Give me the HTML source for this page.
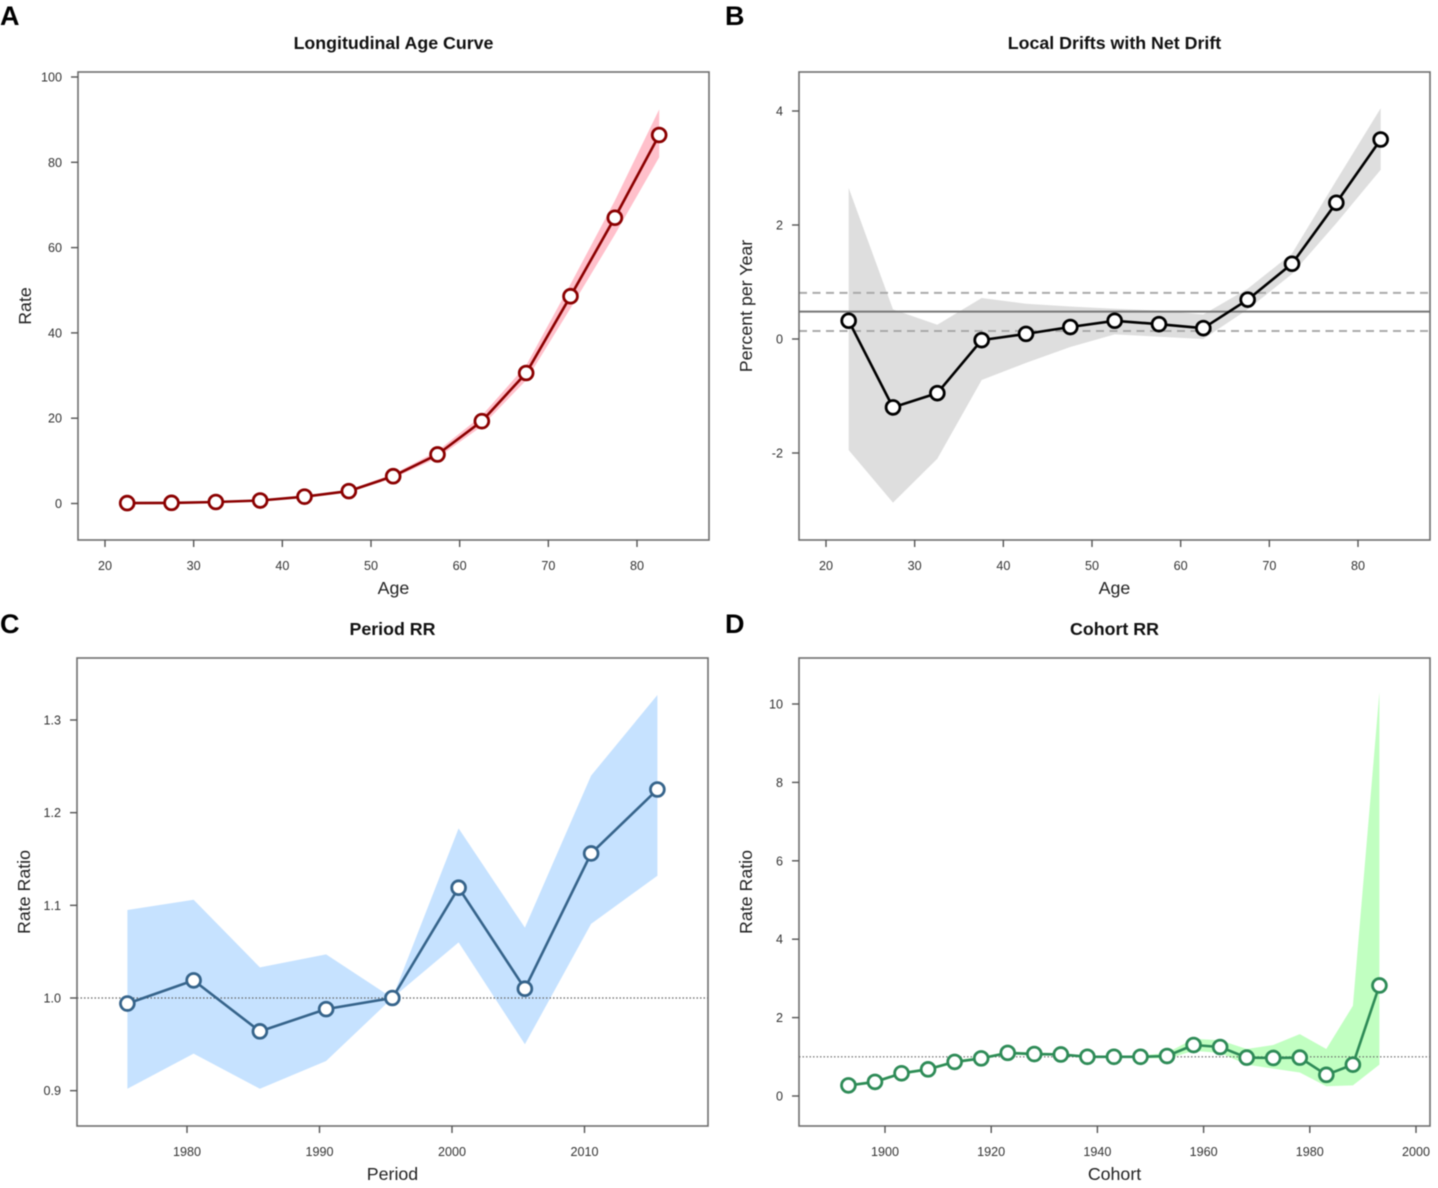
<!DOCTYPE html>
<html lang="en">
<head>
<meta charset="utf-8">
<title>Age-Period-Cohort Charts</title>
<style>
html,body{margin:0;padding:0;background:#fff;}
body{width:1438px;height:1188px;overflow:hidden;}
svg{display:block;filter:blur(0.45px);font-family:"Liberation Sans",Arial,sans-serif;}
</style>
</head>
<body>
<svg id="figure" xmlns="http://www.w3.org/2000/svg" width="1438" height="1188" viewBox="0 0 1438 1188"></svg>
<script>
// Panel A data
const ageCenters = [22.5,27.5,32.5,37.5,42.5,47.5,52.5,57.5,62.5,67.5,72.5,77.5,82.5];
const ageTicks = [20,30,40,50,60,70,80];
const rateTicks = [0,20,40,60,80,100];
const rateValues = [0.1,0.15,0.35,0.7,1.6,2.9,6.4,11.5,19.3,30.6,48.6,67,86.4];
const rateUpper = [0.15,0.2,0.45,0.8,1.8,3.2,6.9,12.3,20.6,32.4,51.4,71,92.4];
const rateLower = [0.05,0.1,0.25,0.6,1.4,2.6,5.9,10.7,18.1,28.9,45.8,63,81.2];

// Panel B data
const driftTicks = [-2,0,2,4];
const driftValues = [0.32,-1.2,-0.95,-0.02,0.09,0.21,0.32,0.26,0.19,0.69,1.32,2.39,3.5];
const driftUpper = [2.65,0.52,0.25,0.72,0.62,0.57,0.53,0.5,0.43,0.88,1.5,2.78,4.05];
const driftLower = [-1.95,-2.87,-2.1,-0.72,-0.42,-0.14,0.08,0.04,0.0,0.52,1.14,2.03,2.97];
const netDrift = [0.48];
const netDriftBounds = [0.14,0.81];

// Panel C data
const periodCenters = [1975.5,1980.5,1985.5,1990.5,1995.5,2000.5,2005.5,2010.5,2015.5];
const periodTicks = [1980,1990,2000,2010];
const periodRRTicks = [0.9,1.0,1.1,1.2,1.3];
const periodRR = [0.994,1.019,0.964,0.988,1.0,1.119,1.01,1.156,1.225];
const periodUpper = [1.095,1.106,1.033,1.047,1.0,1.183,1.076,1.24,1.327];
const periodLower = [0.902,0.94,0.902,0.932,1.0,1.06,0.95,1.08,1.132];

// Panel D data
const cohortCenters = [1893,1898,1903,1908,1913,1918,1923,1928,1933,1938,1943,1948,1953,1958,1963,1968,1973,1978,1983,1988,1993];
const cohortTicks = [1900,1920,1940,1960,1980,2000];
const cohortRRTicks = [0,2,4,6,8,10];
const cohortRR = [0.27,0.36,0.58,0.68,0.87,0.96,1.1,1.07,1.06,1.0,1.0,1.0,1.02,1.3,1.25,0.98,0.97,0.98,0.54,0.8,2.82];
const cohortUpper = [0.3,0.4,0.62,0.72,0.91,1.0,1.14,1.11,1.09,1.03,1.03,1.03,1.1,1.46,1.42,1.2,1.3,1.58,1.2,2.3,10.3];
const cohortLower = [0.24,0.32,0.54,0.64,0.83,0.92,1.06,1.03,1.03,0.97,0.97,0.97,0.95,1.15,1.1,0.8,0.7,0.6,0.25,0.27,0.8];

const SVGNS = 'http://www.w3.org/2000/svg';
const root = document.getElementById('figure');

function make(tag, attrs, parent, text) {
  const el = document.createElementNS(SVGNS, tag);
  for (const k in attrs) el.setAttribute(k, attrs[k]);
  if (text !== undefined) el.textContent = text;
  parent.appendChild(el);
  return el;
}
function linearScale(d0, p0, d1, p1) {
  return v => p0 + (v - d0) * (p1 - p0) / (d1 - d0);
}
function fmt(v, digits) { return digits ? v.toFixed(digits) : String(v); }

function drawPanel(cfg) {
  const g = make('g', {}, root);
  
  
  const sx = linearScale(cfg.xRef[0], cfg.xRef[1], cfg.xRef[2], cfg.xRef[3]);
  const mx = v => sx(v) + (cfg.markOffset || 0);
  const sy = linearScale(cfg.yRef[0], cfg.yRef[1], cfg.yRef[2], cfg.yRef[3]);
  const b = cfg.box;

  // panel letter
  const letter = make('text', {x: cfg.letterX, y: cfg.letterY, 'font-size': 27, 'font-weight': 'bold', fill: '#000'}, g, cfg.letter);
  
  

  // title
  const cx = (b.l + b.r) / 2;
  const title = make('text', {x: cx, y: b.t - 23, 'font-size': 17.8, 'font-weight': 'bold', 'text-anchor': 'middle', fill: '#111'}, g, cfg.title);
  
  

  // confidence band
  const top = cfg.x.map((v, i) => mx(v).toFixed(1) + ',' + sy(cfg.upper[i]).toFixed(1));
  const bottom = cfg.x.map((v, i) => mx(v).toFixed(1) + ',' + sy(cfg.lower[i]).toFixed(1)).reverse();
  const band = make('polygon', {points: top.concat(bottom).join(' '), fill: cfg.bandColor, stroke: 'none'}, g);
  
  

  // reference lines
  (cfg.solidLines || []).forEach(v => {
    const l = make('line', {x1: b.l, x2: b.r, y1: sy(v), y2: sy(v), stroke: '#777', 'stroke-width': 2}, g);
    
    
  });
  (cfg.dashedLines || []).forEach(v => {
    const l = make('line', {x1: b.l, x2: b.r, y1: sy(v), y2: sy(v), stroke: '#aaa', 'stroke-width': 2, 'stroke-dasharray': '8 5.5'}, g);
    
    
  });
  (cfg.dottedLines || []).forEach(v => {
    const l = make('line', {x1: b.l, x2: b.r, y1: sy(v), y2: sy(v), stroke: '#666', 'stroke-width': 1.2, 'stroke-dasharray': '1.5 2'}, g);
    
    
  });

  // series line
  const linePts = cfg.x.map((v, i) => mx(v).toFixed(1) + ',' + sy(cfg.y[i]).toFixed(1)).join(' ');
  const line = make('polyline', {points: linePts, fill: 'none', stroke: cfg.color, 'stroke-width': 2.6, 'stroke-linejoin': 'round'}, g);
  
  

  // points
  cfg.x.forEach((v, i) => {
    const c = make('circle', {cx: mx(v), cy: sy(cfg.y[i]), r: 6.9, fill: '#fff', stroke: cfg.color, 'stroke-width': 2.8}, g);
    
    
  });

  // plot box
  const frame = make('rect', {x: b.l, y: b.t, width: b.r - b.l, height: b.b - b.t, fill: 'none', stroke: '#6e6e6e', 'stroke-width': 1.6}, g);
  
  

  // x axis
  cfg.xTicks.forEach(v => {
    const t = make('line', {x1: sx(v), x2: sx(v), y1: b.b, y2: b.b + 7, stroke: '#555', 'stroke-width': 1.4}, g);
    
    
    const lab = make('text', {x: sx(v), y: b.b + 30, 'font-size': 12.6, 'text-anchor': 'middle', fill: '#333'}, g, String(v));
    
    
  });
  const xt = make('text', {x: cx, y: b.b + 54, 'font-size': 17.8, 'text-anchor': 'middle', fill: '#222'}, g, cfg.xLabel);
  
  

  // y axis
  cfg.yTicks.forEach(v => {
    const t = make('line', {x1: b.l - 7, x2: b.l, y1: sy(v), y2: sy(v), stroke: '#555', 'stroke-width': 1.4}, g);
    
    
    const lab = make('text', {x: b.l - 16, y: sy(v) + 4.5, 'font-size': 12.6, 'text-anchor': 'end', fill: '#333'}, g, fmt(v, cfg.yDigits));
    
    
  });
  const ty = (b.t + b.b) / 2;
  const tx = b.l - 47;
  const yt = make('text', {x: tx, y: ty, 'font-size': 17.8, 'text-anchor': 'middle', fill: '#222', transform: 'rotate(-90 ' + tx + ' ' + ty + ')'}, g, cfg.yLabel);
  
  
}

drawPanel({
  slug: 'longitudinal-age-curve', letter: 'A', letterX: 0, letterY: 25,
  title: 'Longitudinal Age Curve', xLabel: 'Age', yLabel: 'Rate',
  box: {l: 78, r: 709, t: 72, b: 540},
  xRef: [20, 105, 80, 637], yRef: [0, 503.5, 100, 77],
  x: ageCenters, y: rateValues, upper: rateUpper, lower: rateLower,
  xTicks: ageTicks, yTicks: rateTicks, yDigits: 0,
  color: '#8b0000', bandColor: '#ffc0cb'
});
drawPanel({
  slug: 'local-drifts', letter: 'B', letterX: 725, letterY: 25,
  title: 'Local Drifts with Net Drift', xLabel: 'Age', yLabel: 'Percent per Year',
  box: {l: 799, r: 1430, t: 72, b: 540},
  xRef: [20, 826, 80, 1358], yRef: [0, 339, 4, 111], markOffset: 0.5,
  x: ageCenters, y: driftValues, upper: driftUpper, lower: driftLower,
  xTicks: ageTicks, yTicks: driftTicks, yDigits: 0,
  solidLines: netDrift, dashedLines: netDriftBounds,
  color: '#000', bandColor: '#dedede'
});
drawPanel({
  slug: 'period-rr', letter: 'C', letterX: 0, letterY: 633,
  title: 'Period RR', xLabel: 'Period', yLabel: 'Rate Ratio',
  box: {l: 77, r: 708, t: 658, b: 1126},
  xRef: [1980, 187, 2010, 584.5], yRef: [1.0, 998, 1.3, 720], markOffset: 0,
  x: periodCenters, y: periodRR, upper: periodUpper, lower: periodLower,
  xTicks: periodTicks, yTicks: periodRRTicks, yDigits: 1,
  dottedLines: [1],
  color: '#36648b', bandColor: '#c6e2ff'
});
drawPanel({
  slug: 'cohort-rr', letter: 'D', letterX: 725, letterY: 633,
  title: 'Cohort RR', xLabel: 'Cohort', yLabel: 'Rate Ratio',
  box: {l: 799, r: 1430, t: 658, b: 1126},
  xRef: [1900, 885, 2000, 1416], yRef: [0, 1096, 10, 704], markOffset: 0.6,
  x: cohortCenters, y: cohortRR, upper: cohortUpper, lower: cohortLower,
  xTicks: cohortTicks, yTicks: cohortRRTicks, yDigits: 0,
  dottedLines: [1],
  color: '#2e8b57', bandColor: '#c1ffc1'
});
</script>
</body>
</html>
